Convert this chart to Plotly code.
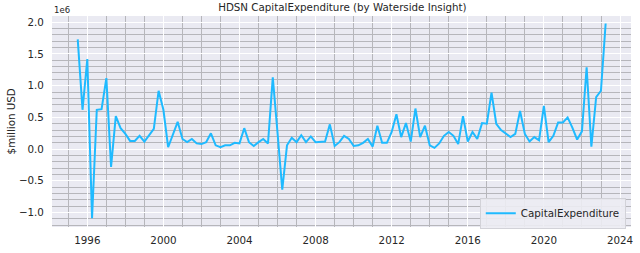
import pandas as pd
import plotly.graph_objects as go

# Quarterly capital expenditure (in units of 1e6 USD), Q2 1995 .. Q1 2023
capex = [
    1.73, 0.62,                    # 1995 Q2-Q3
    1.42, -1.09, 0.62, 0.63,       # 1995 Q4 - 1996 Q3
    1.12, -0.28, 0.52, 0.33,
    0.24, 0.13, 0.13, 0.21,
    0.12, 0.22, 0.32, 0.92,
    0.62, 0.03, 0.22, 0.43,
    0.16, 0.11, 0.16, 0.09,
    0.08, 0.11, 0.25, 0.06,
    0.03, 0.06, 0.06, 0.10,
    0.09, 0.33, 0.11, 0.05,
    0.11, 0.16, 0.09, 1.13,
    0.25, -0.64, 0.06, 0.18,
    0.11, 0.22, 0.11, 0.20,
    0.11, 0.11, 0.12, 0.39,
    0.05, 0.11, 0.21, 0.16,
    0.05, 0.06, 0.10, 0.16,
    0.04, 0.37, 0.10, 0.10,
    0.27, 0.55, 0.19, 0.41,
    0.12, 0.64, 0.19, 0.37,
    0.06, 0.02, 0.09, 0.21,
    0.27, 0.21, 0.08, 0.52,
    0.12, 0.27, 0.16, 0.41,
    0.40, 0.89, 0.40, 0.30,
    0.25, 0.19, 0.24, 0.60,
    0.24, 0.12, 0.19, 0.14,
    0.68, 0.11, 0.21, 0.42,
    0.42, 0.50, 0.34, 0.15,
    0.28, 1.29, 0.04, 0.82,
    0.92, 1.98,
]
dates = pd.date_range("1995-06-30", periods=len(capex), freq="QE")

series_name = "CapitalExpenditure"
title_text = "HDSN CapitalExpenditure (by Waterside Insight)"
y_title = "$million USD"

TXT = "#262626"
FONT = "DejaVu Sans"

fig = go.Figure()
fig.add_trace(go.Scatter(
    x=dates, y=capex, mode="lines", name=series_name,
    line=dict(color="#1fbaff", width=2),
))

fig.update_layout(
    width=640, height=253,
    margin=dict(l=52, r=7, t=16, b=23),
    paper_bgcolor="white",
    plot_bgcolor="#eaeaf2",
    font=dict(family=FONT, size=10.3, color=TXT),
    title=dict(text=title_text, x=0.535, xanchor="center",
               y=0.972, yanchor="middle", yref="container",
               font=dict(family=FONT, size=10.3, color=TXT)),
    showlegend=True,
    legend=dict(x=0.991, xanchor="right", y=-0.008, yanchor="bottom",
                bgcolor="rgba(236,236,243,0.9)", bordercolor="#d2d2d8",
                borderwidth=1, font=dict(family=FONT, size=10.3, color=TXT)),
)

fig.update_xaxes(
    type="date",
    range=["1994-02-21", "2024-07-30"],
    tick0="1996-01-01", dtick="M48", tickformat="%Y",
    showgrid=True, gridcolor="white", gridwidth=1,
    minor=dict(tick0="1996-01-01", dtick="M12", showgrid=True,
               gridcolor="#b6b6bb", gridwidth=1.2),
    ticks="outside", ticklen=4, tickcolor="rgba(0,0,0,0)",
    zeroline=False, showline=False,
    tickfont=dict(family=FONT, size=10.3, color=TXT),
)

fig.update_yaxes(
    range=[-1.227, 2.098],
    tick0=0, dtick=0.5, tickformat=".1f",
    showgrid=True, gridcolor="white", gridwidth=1,
    minor=dict(tick0=0, dtick=0.1, showgrid=True,
               gridcolor="#b6b6bb", gridwidth=1.2),
    ticks="outside", ticklen=5, tickcolor="rgba(0,0,0,0)",
    zeroline=False, showline=False,
    tickfont=dict(family=FONT, size=10.3, color=TXT),
)

fig.add_annotation(text="1e6", xref="paper", yref="paper", x=0, y=1,
                   xanchor="left", yanchor="bottom", showarrow=False,
                   font=dict(family=FONT, size=8.5, color=TXT), yshift=-1)
fig.add_annotation(text=y_title, xref="paper", yref="paper",
                   x=-0.071, y=0.5, xanchor="center", yanchor="middle",
                   textangle=-90, showarrow=False,
                   font=dict(family=FONT, size=10.3, color=TXT))

fig.write_html("out.html")
